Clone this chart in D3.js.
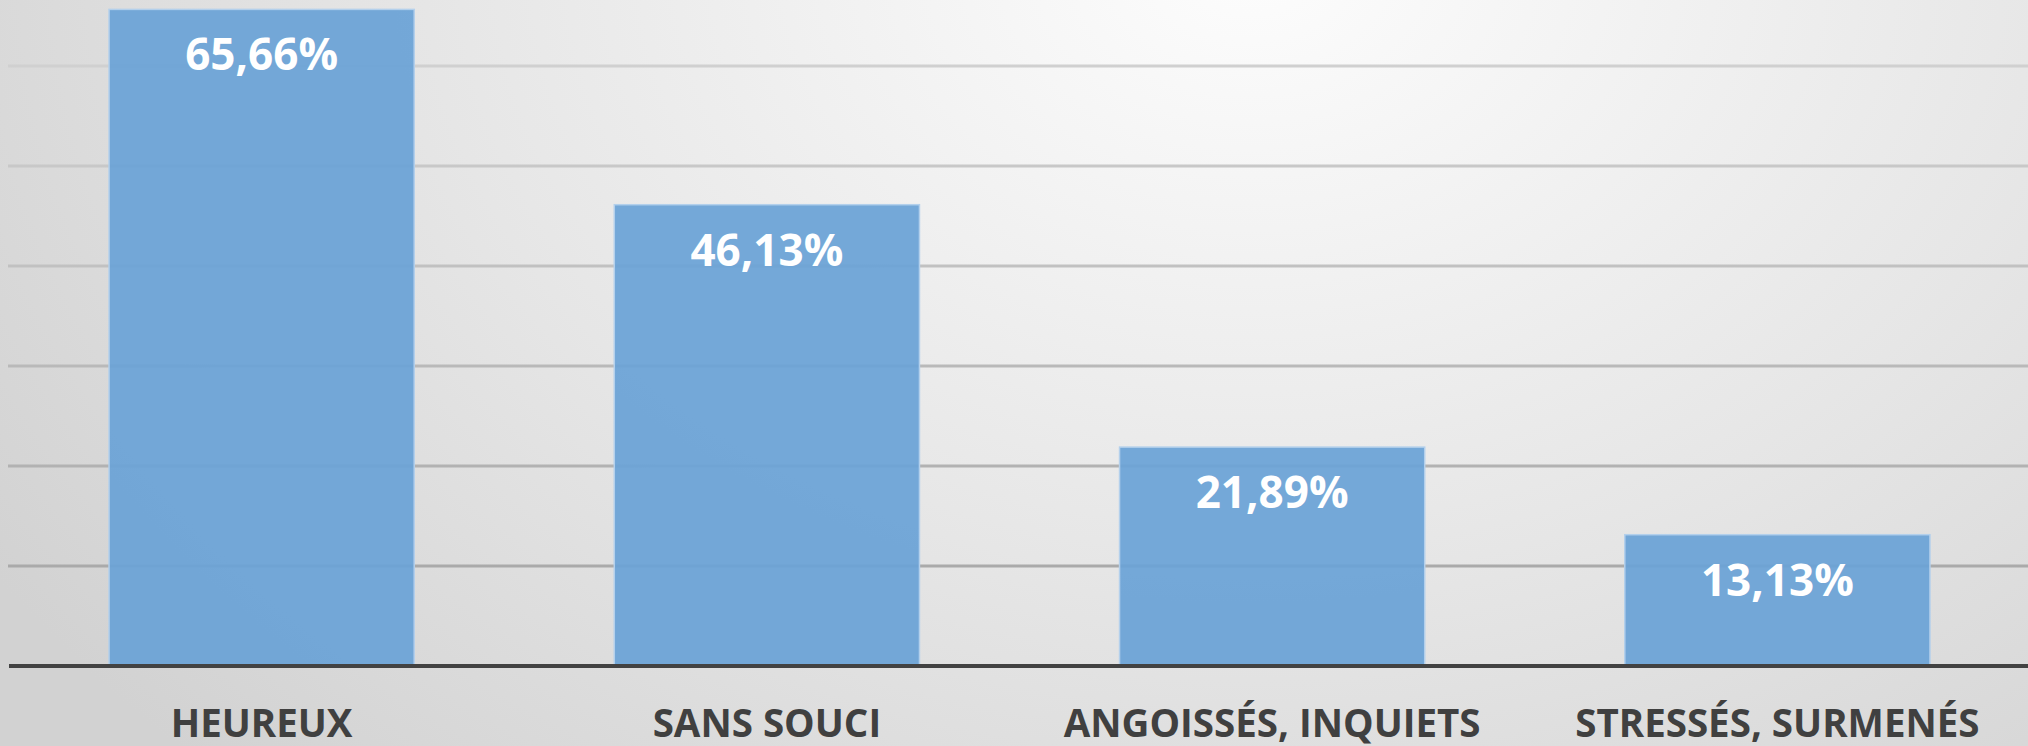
<!DOCTYPE html>
<meta charset="utf-8">
<style>
body{ margin:0; }
.catLabel{ font-family:"Open Sans"; font-weight:700; fill:#404040; }
.valLabel{ font-family:"Open Sans"; font-weight:700; fill:#fff; }
</style>
<svg id="chart" width="2028" height="746"></svg>
<script src="https://d3js.org/d3.v7.min.js"></script>
<script>

var categories = ["HEUREUX", "SANS SOUCI", "ANGOISSÉS, INQUIETS", "STRESSÉS, SURMENÉS"];
var values = [65.66, 46.13, 21.89, 13.13];
var valueLabels = ["65,66%", "46,13%", "21,89%", "13,13%"];
var gridTicks = [10, 20, 30, 40, 50, 60];

var svg = d3.select("#chart"),
    width = +svg.attr("width"),
    height = +svg.attr("height");

// background radial gradient
var defs = svg.append("defs");
var bg = defs.append("radialGradient")
  .attr("id","bgGrad")
  .attr("gradientUnits","userSpaceOnUse")
  .attr("cx",1250).attr("cy",-40).attr("r",1500)
  .attr("gradientTransform","translate(1250,-40) scale(1,0.75) translate(-1250,40)");
bg.append("stop").attr("offset","0%").attr("stop-color","#fdfdfd");
bg.append("stop").attr("offset","55%").attr("stop-color","#e6e6e6");
bg.append("stop").attr("offset","100%").attr("stop-color","#d2d2d2");

svg.append("rect")
  .attr("width",width)
  .attr("height",height)
  .attr("fill","url(#bgGrad)");

var x = d3.scaleBand()
  .domain(categories)
  .range([9, 2030])
  .paddingInner(0.396)
  .paddingOuter(0.198);

var y = d3.scaleLinear()
  .domain([0, 10])
  .range([666, 566]);

var gridColor = d3.scaleLinear()
  .domain([10, 60])
  .range(["#aaaaaa", "#d0d0d0"]);

// gridlines
svg.append("g").selectAll("line")
  .data(gridTicks)
  .enter().append("line")
    .attr("x1", 8)
    .attr("x2", width)
    .attr("y1", function(d){ return y(d); })
    .attr("y2", function(d){ return y(d); })
    .attr("stroke", function(d){ return gridColor(d); })
    .attr("stroke-width", 3);

// bars
svg.append("g").selectAll("rect")
  .data(values)
  .enter().append("rect")
    .attr("x", function(d,i){ return x(categories[i]); })
    .attr("y", function(d){ return y(d); })
    .attr("width", x.bandwidth())
    .attr("height", function(d){ return y(0) - y(d); })
    .attr("fill", "#6aa2d6")
    .attr("fill-opacity", 0.93)
    .attr("stroke", "#b3d0ec")
    .attr("stroke-width", 1.5);

// value labels
svg.append("g").selectAll("text")
  .data(values)
  .enter().append("text")
    .attr("class","valLabel")
    .attr("x", function(d,i){ return x(categories[i]) + x.bandwidth()/2; })
    .attr("y", function(d){ return y(d) + 61; })
    .attr("text-anchor","middle")
    .style("font-size","44px")
    .text(function(d,i){ return valueLabels[i]; });

// baseline
svg.append("line")
  .attr("x1", 9)
  .attr("x2", width)
  .attr("y1", y(0))
  .attr("y2", y(0))
  .attr("stroke", "#424242")
  .attr("stroke-width", 4);

// category labels
svg.append("g").selectAll("text")
  .data(categories)
  .enter().append("text")
    .attr("class","catLabel")
    .attr("x", function(d){ return x(d) + x.bandwidth()/2; })
    .attr("y", 737)
    .attr("text-anchor","middle")
    .style("font-size","38.5px")
    .text(function(d){ return d; });

</script>
